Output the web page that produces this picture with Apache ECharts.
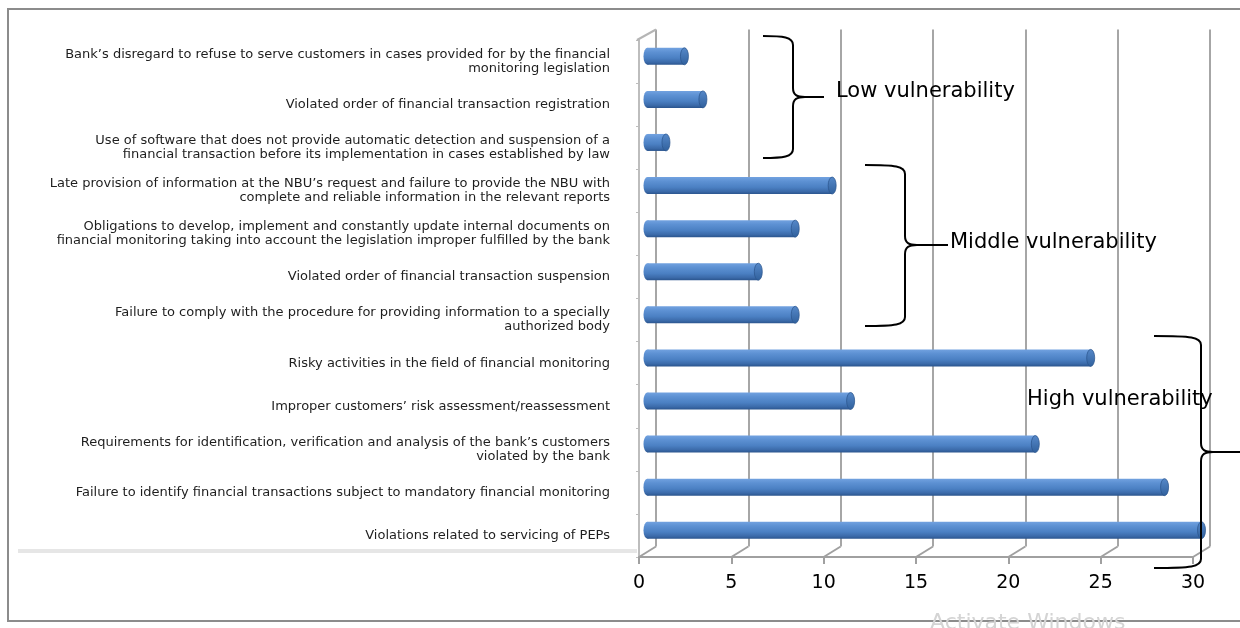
<!DOCTYPE html>
<html>
<head>
<meta charset="utf-8">
<script src="https://cdn.jsdelivr.net/npm/echarts@6/dist/echarts.min.js"></script>
<style>
html,body{margin:0;padding:0;background:#fff;}
#chart{width:1240px;height:628px;}
</style>
</head>
<body>
<div id="chart"></div>
<script>
// ---- data ----
const categories = [
  "Bank\u2019s disregard to refuse to serve customers in cases provided for by the financial\nmonitoring legislation",
  "Violated order of financial transaction registration",
  "Use of software that does not provide automatic detection and suspension of a\nfinancial transaction before its implementation in cases established by law",
  "Late provision of information at the NBU\u2019s request and failure to provide the NBU with\ncomplete and reliable information in the relevant reports",
  "Obligations to develop, implement and constantly update internal documents on\nfinancial monitoring taking into account the legislation improper fulfilled by the bank",
  "Violated order of financial transaction suspension",
  "Failure to comply with the procedure for providing information to a specially\nauthorized body",
  "Risky activities in the field of financial monitoring",
  "Improper customers\u2019 risk assessment/reassessment",
  "Requirements for identification, verification and analysis of the bank\u2019s customers\nviolated by the bank",
  "Failure to identify financial transactions subject to mandatory financial monitoring",
  "Violations related to servicing of PEPs"
];
const values = [2, 3, 1, 10, 8, 6, 8, 24, 11, 21, 28, 30];
const xTicks = [0, 5, 10, 15, 20, 25, 30];
const groupLabels = ["Low vulnerability", "Middle vulnerability", "High vulnerability"];
const watermark = "Activate Windows";

// ---- layout (styles / positions) ----
const FONT = '"DejaVu Sans", "Open Sans", sans-serif';
const front = { left: 639, right: 47, top: 40, bottom: 71 };
const depth = { dx: 17, dy: -10.5 };
const back = { left: front.left + depth.dx, right: front.right - depth.dx,
               top: front.top + depth.dy, bottom: front.bottom - depth.dy };
const barH = 17;
const capRx = 4;

const xMin = xTicks[0], xMax = xTicks[xTicks.length - 1], xInt = xTicks[1] - xTicks[0];

const barGrad = () => new echarts.graphic.LinearGradient(0, 0, 0, 1, [
  { offset: 0, color: '#72a2e0' },
  { offset: 0.25, color: '#5d91d3' },
  { offset: 0.6, color: '#4b80c3' },
  { offset: 0.85, color: '#3b6aa9' },
  { offset: 1, color: '#2b558e' }
]);
const capGrad = () => new echarts.graphic.LinearGradient(0, 0, 0, 1, [
  { offset: 0, color: '#5689ca' },
  { offset: 1, color: '#30609c' }
]);

const chart = echarts.init(document.getElementById('chart'), null, { renderer: 'canvas' });

const braceStyle = { stroke: '#000', lineWidth: 2, fill: null };
function braceEls(xa, xb, xc, yTop, yMid, yBot) {
  const r = 9;
  const L = (x1, y1, x2, y2) => ({ type: 'line', z: 50, silent: true, shape: { x1, y1, x2, y2 }, style: braceStyle });
  const B = (x1, y1, cpx1, cpy1, cpx2, cpy2, x2, y2) => ({ type: 'bezierCurve', z: 50, silent: true,
    shape: { x1, y1, cpx1, cpy1, cpx2, cpy2, x2, y2 }, style: braceStyle });
  return [
    B(xa, yTop, xb - 10, yTop, xb, yTop + 1, xb, yTop + r),
    L(xb, yTop + r, xb, yMid - r),
    B(xb, yMid - r, xb, yMid - 2, xb + 4, yMid, xb + 12, yMid),
    L(xb + 12, yMid, xc, yMid),
    B(xb + 12, yMid, xb + 4, yMid, xb, yMid + 2, xb, yMid + r),
    L(xb, yMid + r, xb, yBot - r),
    B(xb, yBot - r, xb, yBot - 1, xb - 10, yBot, xa, yBot)
  ];
}

const braces = [
  { xa: 763, xb: 793, xc: 824, yTop: 36, yMid: 97, yBot: 158, tx: 836, ty: 92 },
  { xa: 865, xb: 905, xc: 948, yTop: 165, yMid: 245, yBot: 326, tx: 950, ty: 243 },
  { xa: 1154, xb: 1201, xc: 1250, yTop: 336, yMid: 452, yBot: 568, tx: 1027, ty: 400 }
];

const graphics = [
  { type: 'rect', z: 0, silent: true, shape: { x: 8, y: 9, width: 1260, height: 612 },
    style: { fill: null, stroke: '#8c8c8c', lineWidth: 2 } },
  { type: 'rect', z: 1, silent: true, shape: { x: 18, y: 549, width: front.left - 20, height: 4 },
    style: { fill: '#e6e6e6' } },
  { type: 'line', z: 1, silent: true,
    shape: { x1: front.left - 2, y1: front.top, x2: back.left, y2: back.top },
    style: { stroke: '#b5b5b5', lineWidth: 2 } },
  { type: 'text', z: 1, silent: true, x: 930, y: 612,
    style: { text: watermark, font: '22px ' + FONT, fill: '#d4d4d4', align: 'left', verticalAlign: 'top' } }
];
braces.forEach((b, i) => {
  braceEls(b.xa, b.xb, b.xc, b.yTop, b.yMid, b.yBot).forEach(el => graphics.push(el));
  graphics.push({ type: 'text', z: 51, silent: true, x: b.tx, y: b.ty,
    style: { text: groupLabels[i], font: '21px ' + FONT, fill: '#000', align: 'left', verticalAlign: 'middle' } });
});

function ellipseEl(cx, cy, style) {
  return { type: 'circle', x: cx, y: cy, scaleX: capRx / (barH / 2), scaleY: 1,
           shape: { cx: 0, cy: 0, r: barH / 2 }, style: style };
}

const option = {
  animation: false,
  backgroundColor: '#fff',
  grid: [
    { left: front.left, right: front.right, top: front.top, bottom: front.bottom },
    { left: back.left, right: back.right, top: back.top, bottom: back.bottom }
  ],
  xAxis: [
    { gridIndex: 0, type: 'value', min: xMin, max: xMax, interval: xInt,
      axisLine: { show: true, lineStyle: { color: '#a0a0a0', width: 2 } },
      axisTick: { show: true, length: 7, lineStyle: { color: '#a0a0a0', width: 2 } },
      splitLine: { show: false },
      axisLabel: { color: '#000', fontSize: 19, fontFamily: FONT, margin: 17 } },
    { gridIndex: 1, type: 'value', min: xMin, max: xMax, interval: xInt,
      axisLine: { show: false }, axisTick: { show: false }, axisLabel: { show: false },
      splitLine: { show: true, lineStyle: { color: '#a6a6a6', width: 2 } } }
  ],
  yAxis: [
    { gridIndex: 0, type: 'category', data: categories, inverse: true, offset: 2,
      axisLine: { show: true, lineStyle: { color: '#bdbdbd', width: 2 } },
      axisTick: { show: true, length: 3, lineStyle: { color: '#bdbdbd' } },
      axisLabel: { color: '#1e1e1e', fontSize: 13, lineHeight: 14, fontFamily: FONT, margin: 27, align: 'right' } },
    { gridIndex: 1, type: 'category', data: categories, inverse: true, show: false }
  ],
  graphic: graphics,
  series: [
    {
      type: 'custom', xAxisIndex: 0, yAxisIndex: 0, z: 2, silent: true,
      data: xTicks.map(v => [v, 0]),
      renderItem: (params, api) => {
        const cs = params.coordSys;
        const x = api.coord([api.value(0), 0])[0];
        const yb = cs.y + cs.height;
        return { type: 'line', shape: { x1: x, y1: yb, x2: x + depth.dx, y2: yb + depth.dy },
                 style: { stroke: '#a0a0a0', lineWidth: 2 } };
      }
    },
    {
      type: 'custom', xAxisIndex: 0, yAxisIndex: 0, z: 10,
      data: values.map((v, i) => [v, i]),
      encode: { x: 0, y: 1 },
      renderItem: (params, api) => {
        const p0 = api.coord([0, api.value(1)]);
        const p1 = api.coord([api.value(0), api.value(1)]);
        const ox = depth.dx / 2, oy = depth.dy / 2;
        const x0 = p0[0] + ox, x1 = p1[0] + ox, yc = p0[1] + oy;
        return { type: 'group', children: [
          ellipseEl(x0, yc, { fill: barGrad() }),
          { type: 'rect', shape: { x: x0, y: yc - barH / 2, width: Math.max(0, x1 - x0), height: barH }, style: { fill: barGrad() } },
          ellipseEl(x1, yc, { fill: capGrad(), stroke: '#2a558c', lineWidth: 1 })
        ] };
      }
    }
  ]
};
chart.setOption(option);
</script>
</body>
</html>
